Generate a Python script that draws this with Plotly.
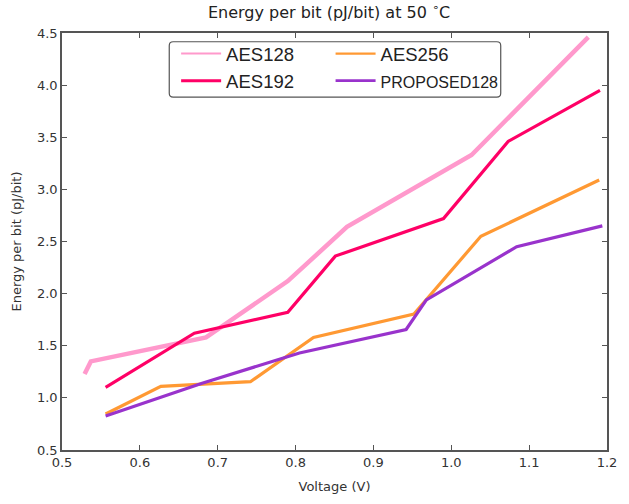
import plotly.graph_objects as go

# Data
aes128_v = [0.529, 0.537, 0.685, 0.790, 0.866, 1.026, 1.176]
aes128_e = [1.23, 1.35, 1.58, 2.12, 2.64, 3.33, 4.46]

aes192_v = [0.556, 0.670, 0.790, 0.851, 0.990, 1.073, 1.191]
aes192_e = [1.10, 1.62, 1.82, 2.36, 2.72, 3.46, 3.95]

aes256_v = [0.556, 0.627, 0.742, 0.823, 0.952, 1.038, 1.190]
aes256_e = [0.845, 1.11, 1.155, 1.58, 1.805, 2.55, 3.09]

prop_v = [0.556, 0.680, 0.805, 0.942, 0.968, 1.084, 1.194]
prop_e = [0.826, 1.14, 1.43, 1.656, 1.94, 2.45, 2.65]

series_names = ["AES128", "AES192", "AES256", "PROPOSED128"]
series_colors = ["#ff99cc", "#ff0066", "#ff9933", "#9933cc"]
series_widths = [4.5, 3.2, 3.2, 3.2]
legend_widths = [2.0, 3.0, 2.2, 2.6]
legend_groups = ["legend", "legend", "legend2", "legend2"]
series_data = [(aes128_v, aes128_e), (aes192_v, aes192_e),
               (aes256_v, aes256_e), (prop_v, prop_e)]

x_ticks = [0.5, 0.6, 0.7, 0.8, 0.9, 1.0, 1.1, 1.2]
y_ticks = [0.5, 1.0, 1.5, 2.0, 2.5, 3.0, 3.5, 4.0, 4.5]

FONT = "DejaVu Sans"
LEG_FONT = "Liberation Sans"

fig = go.Figure()
# real data lines (drawn in the reference order: AES128, AES192, AES256, PROPOSED128)
for name, color, w, (xv, yv) in zip(series_names, series_colors, series_widths, series_data):
    fig.add_trace(go.Scatter(x=xv, y=yv, mode="lines", name=name, showlegend=False,
                             line=dict(color=color, width=w)))
# legend entries (thinner sample lines, as in the reference), two columns
for name, color, lw, lg in zip(series_names, series_colors, legend_widths, legend_groups):
    label = name if name != "PROPOSED128" else "<span style='font-size:16px'>PROPOSED128</span>"
    fig.add_trace(go.Scatter(x=[None], y=[None], mode="lines", name=label, legend=lg,
                             line=dict(color=color, width=lw)))

axis_common = dict(showline=True, linecolor="#555555", linewidth=1.5, mirror="ticks",
                   ticks="inside", ticklen=5, tickcolor="#555555", showgrid=False,
                   zeroline=False, tickfont=dict(family=FONT, size=13, color="#333333"))

# legend frame (rounded rectangle) in paper coordinates
bx0, bx1, by0, by1 = 0.1968, 0.805, 0.846, 0.979
rx, ry = 4 / 554, 4 / 429
frame_path = (f"M {bx0+rx},{by1} L {bx1-rx},{by1} Q {bx1},{by1} {bx1},{by1-ry} "
              f"L {bx1},{by0+ry} Q {bx1},{by0} {bx1-rx},{by0} "
              f"L {bx0+rx},{by0} Q {bx0},{by0} {bx0},{by0+ry} "
              f"L {bx0},{by1-ry} Q {bx0},{by1} {bx0+rx},{by1} Z")

legend_common = dict(orientation="v", yanchor="top", y=0.995, xanchor="left",
                     itemwidth=40, bgcolor="rgba(0,0,0,0)", borderwidth=0,
                     font=dict(family=LEG_FONT, size=18.5, color="#222222"))

fig.update_layout(
    width=629, height=504,
    margin=dict(l=62, r=13, t=33, b=42),
    paper_bgcolor="white", plot_bgcolor="white",
    title=dict(text="Energy per bit (pJ/bit) at 50 <sup>\u2218</sup>C",
               xref="paper", x=0.49, xanchor="center", y=0.976, yanchor="middle",
               font=dict(family=FONT, size=16, color="#222222")),
    xaxis=dict(range=[0.5, 1.2], tickvals=x_ticks, tickformat=".1f",
               title=dict(text="Voltage (V)", font=dict(family=FONT, size=13, color="#333333"),
                          standoff=13),
               **axis_common),
    yaxis=dict(range=[0.5, 4.5], tickvals=y_ticks, tickformat=".1f",
               title=dict(text="Energy per bit (pJ/bit)", font=dict(family=FONT, size=13, color="#333333"),
                          standoff=12),
               **axis_common),
    legend=dict(x=0.2094, **legend_common),
    legend2=dict(x=0.4928, **legend_common),
    shapes=[dict(type="path", path=frame_path, xref="paper", yref="paper",
                 line=dict(color="#555555", width=1.2), fillcolor="white", layer="above")],
    showlegend=True,
)

fig.write_html("out.html", config={"displayModeBar": False},
               post_script="document.body.style.margin='0';")
